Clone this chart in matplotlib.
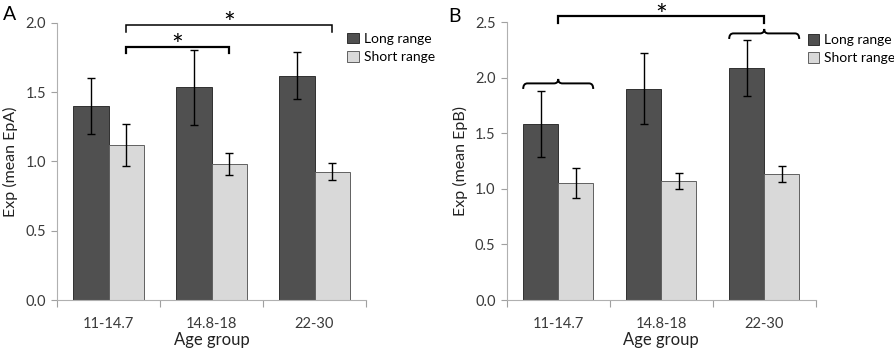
import numpy as np
import matplotlib.pyplot as plt
from matplotlib.path import Path
from matplotlib.patches import PathPatch

plt.rcParams['font.family'] = ['Lato', 'DejaVu Sans']

groups = ["11-14.7", "14.8-18", "22-30"]

# panel A (mean EpA)
long_a = [1.40, 1.535, 1.62]
long_a_err = [0.20, 0.27, 0.17]
short_a = [1.12, 0.98, 0.926]
short_a_err = [0.15, 0.08, 0.063]

# panel B (mean EpB)
long_b = [1.584, 1.90, 2.09]
long_b_err = [0.30, 0.32, 0.25]
short_b = [1.056, 1.071, 1.134]
short_b_err = [0.135, 0.075, 0.07]

dark = "#505050"
light = "#d9d9d9"
txt = "#3a3a3a"
width = 0.34

fig = plt.figure(figsize=(8.94, 3.5), dpi=100)
axA = fig.add_axes([57 / 894, 50 / 350, 309 / 894, 277 / 350])
axB = fig.add_axes([506.7 / 894, 50 / 350, 309 / 894, 277.7 / 350])


def draw(ax, long_v, long_e, short_v, short_e, ymax, ylabel, leg_at):
    x = np.arange(len(groups))
    ax.bar(x - width / 2, long_v, width, color=dark, edgecolor="#303030", linewidth=0.7,
           yerr=long_e, error_kw=dict(ecolor="black", elinewidth=1, capsize=3, capthick=1),
           label="Long range")
    ax.bar(x + width / 2, short_v, width, color=light, edgecolor="#606060", linewidth=0.7,
           yerr=short_e, error_kw=dict(ecolor="black", elinewidth=1, capsize=3, capthick=1),
           label="Short range")
    ax.set_xlim(-0.5, 2.5)
    ax.set_ylim(0, ymax)
    ticks = np.arange(0, ymax + 0.01, 0.5)
    ax.set_yticks(ticks)
    ax.set_yticklabels([f"{v:.1f}" for v in ticks])
    ax.set_xticks([-0.5, 0.5, 1.5, 2.5])
    ax.set_xticklabels([])
    ax.set_xticks(x, minor=True)
    ax.set_xticklabels(groups, minor=True)
    ax.tick_params(axis="x", which="minor", length=0, pad=12, labelsize=10.5, labelcolor=txt)
    ax.tick_params(axis="x", which="major", length=5, color="#a0a0a0", direction="out")
    ax.tick_params(axis="y", length=4, color="#a0a0a0", labelsize=10.5, labelcolor=txt, pad=4)
    for s in ["top", "right"]:
        ax.spines[s].set_visible(False)
    for s in ["left", "bottom"]:
        ax.spines[s].set_color("#b0b0b0")
        ax.spines[s].set_linewidth(0.8)
    ax.set_xlabel("Age group", fontsize=12, color="#222222", labelpad=1)
    ax.set_ylabel(ylabel, fontsize=11.5, color="#222222", labelpad=5)
    ax.legend(loc="upper left", bbox_to_anchor=leg_at, frameon=False, fontsize=10,
              handlelength=0.8, handleheight=0.8, handletextpad=0.4, labelspacing=0.45,
              borderaxespad=0)


def bracket(ax, x0, x1, y, d, lw=1.4):
    ax.plot([x0, x0, x1, x1], [y - d, y, y, y - d], color="black", lw=lw,
            clip_on=False, solid_joinstyle="miter")


def brace(ax, x0, x1, y, d, lw=1.4):
    xm = (x0 + x1) / 2
    e = (x1 - x0) * 0.06
    verts = [(x0, y - d), (x0, y), (x0 + e, y),
             (xm - e, y), (xm, y), (xm, y + d * 0.8),
             (xm, y), (xm + e, y),
             (x1 - e, y), (x1, y), (x1, y - d)]
    codes = [Path.MOVETO, Path.CURVE3, Path.CURVE3,
             Path.LINETO, Path.CURVE3, Path.CURVE3,
             Path.CURVE3, Path.CURVE3,
             Path.LINETO, Path.CURVE3, Path.CURVE3]
    ax.add_patch(PathPatch(Path(verts, codes), fill=False, lw=lw, color="black", clip_on=False))


draw(axA, long_a, long_a_err, short_a, short_a_err, 2.0, "Exp (mean EpA)", (0.922, 0.985))
draw(axB, long_b, long_b_err, short_b, short_b_err, 2.5, "Exp (mean EpB)", (0.956, 0.978))

# significance markers, panel A
bracket(axA, 0 + width / 2, 2 + width / 2, 1.986, 0.05, lw=1.1)
bracket(axA, 0 + width / 2, 1 + width / 2, 1.83, 0.05, lw=1.6)
axA.text(1 + width / 2, 1.93, "*", ha="center", va="baseline", fontsize=20, clip_on=False)
axA.text(0.5 + width / 2, 1.77, "*", ha="center", va="baseline", fontsize=20, clip_on=False)

# significance markers, panel B
brace(axB, -width, width, 1.95, 0.05)
brace(axB, 2 - width, 2 + width, 2.40, 0.05)
bracket(axB, 0, 2, 2.56, 0.065, lw=1.6)
axB.text(1, 2.48, "*", ha="center", va="baseline", fontsize=20, clip_on=False)

fig.text(3 / 894, 1 - 20 / 350, "A", fontsize=14)
fig.text(448 / 894, 1 - 22 / 350, "B", fontsize=14)

fig.savefig("out.png", dpi=100)
